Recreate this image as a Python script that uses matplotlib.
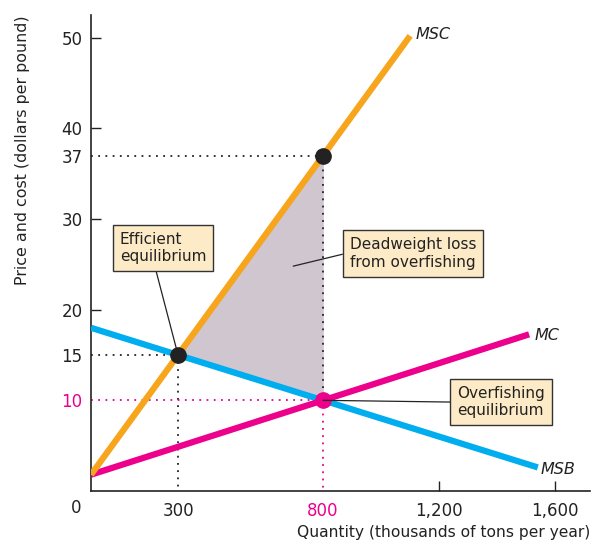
import matplotlib.pyplot as plt

# data
q_line = [0, 1100]          # MSC range
q_mc = [0, 1510]
q_msb = [0, 1540]
msc_int, msc_slope = 1.8, 0.044
mc_int, mc_slope = 1.8, 0.01025
msb_int, msb_slope = 18.0, -0.01

efficient = (300, 15)
overfish = (800, 10)
msc_at_800 = (800, 37)

yticks = [10, 15, 20, 30, 37, 40, 50]
xticks = [300, 800, 1200, 1600]
xtick_labels = ["300", "800", "1,200", "1,600"]

orange = "#f7a51c"
blue = "#00aeef"
pink = "#ec008c"
shade = "#cfc6d0"
boxfill = "#fdeac6"
dark = "#222222"

plt.rcParams['font.family'] = ['DejaVu Sans']

fig = plt.figure(figsize=(5.98, 5.43), dpi=100)
ax = fig.add_axes([91/598, 52/543, 499/598, 476/543])

def line(q, a, b):
    return [a + b*x for x in q]

# deadweight loss area
ax.fill([efficient[0], msc_at_800[0], overfish[0]],
        [efficient[1], msc_at_800[1], overfish[1]], color=shade, zorder=1)

# dotted guides
ax.plot([0, msc_at_800[0], msc_at_800[0]], [msc_at_800[1], msc_at_800[1], overfish[1]],
        ls=(0, (1, 3)), color=dark, lw=1.3, zorder=2)
ax.plot([0, efficient[0], efficient[0]], [efficient[1], efficient[1], 0],
        ls=(0, (1, 3)), color=dark, lw=1.3, zorder=2)
ax.plot([0, overfish[0], overfish[0]], [overfish[1], overfish[1], 0],
        ls=(0, (1, 3)), color=pink, lw=1.3, zorder=2)

# curves
ax.plot(q_msb, line(q_msb, msb_int, msb_slope), color=blue, lw=4.5, solid_capstyle='butt', zorder=3)
ax.plot(q_mc, line(q_mc, mc_int, mc_slope), color=pink, lw=4.5, solid_capstyle='butt', zorder=3)
ax.plot(q_line, line(q_line, msc_int, msc_slope), color=orange, lw=4.5, solid_capstyle='butt', zorder=4)

ax.plot(*efficient, 'o', color=dark, ms=11, zorder=6)
ax.plot(*msc_at_800, 'o', color=dark, ms=11, zorder=6)
ax.plot(*overfish, 'o', color=pink, ms=11, zorder=6)

# curve labels
ax.text(1120, 50.3, "MSC", style='italic', fontsize=11.5, va='center', ha='left', color=dark)
ax.text(1530, 17.2, "MC", style='italic', fontsize=11.5, va='center', ha='left', color=dark)
ax.text(1550, 2.4, "MSB", style='italic', fontsize=11.5, va='center', ha='left', color=dark)

# annotation boxes
bbox = dict(boxstyle='square,pad=0.45', fc=boxfill, ec='#333333', lw=1)
ax.annotate("Efficient\nequilibrium", xy=efficient, xytext=(248, 26.8),
            fontsize=11, ha='center', va='center', multialignment='left', color=dark, bbox=bbox,
            arrowprops=dict(arrowstyle='-', color=dark, lw=0.9, relpos=(0.4, 0),
                            shrinkA=0, shrinkB=0), zorder=7)
ax.annotate("Deadweight loss\nfrom overfishing", xy=(697, 24.8), xytext=(1110, 26.2),
            fontsize=11, ha='center', va='center', multialignment='left', color=dark, bbox=bbox,
            arrowprops=dict(arrowstyle='-', color=dark, lw=0.9, relpos=(0, 0.53),
                            shrinkA=0, shrinkB=0), zorder=7)
ax.annotate("Overfishing\nequilibrium", xy=overfish, xytext=(1414, 9.8),
            fontsize=11, ha='center', va='center', multialignment='left', color=dark, bbox=bbox,
            arrowprops=dict(arrowstyle='-', color=dark, lw=0.9, relpos=(0, 0.5),
                            shrinkA=0, shrinkB=0), zorder=7)

ax.set_xlim(0, 1720)
ax.set_ylim(0, 52.5)
for s in ['top', 'right']:
    ax.spines[s].set_visible(False)
for s in ['left', 'bottom']:
    ax.spines[s].set_linewidth(1.2)
    ax.spines[s].set_color(dark)

ax.set_yticks(yticks)
ax.set_yticklabels([str(v) for v in yticks])
ax.set_xticks(xticks)
ax.set_xticklabels(xtick_labels)
ax.tick_params(direction='in', length=7, width=1, colors=dark, labelsize=12, pad=6)
ax.tick_params(axis='x', pad=8)
for t, v in zip(ax.yaxis.get_major_ticks(), yticks):
    if v in (10, 15, 37):
        t.tick1line.set_visible(False)
for t, v in zip(ax.xaxis.get_major_ticks(), xticks):
    if v in (300, 800):
        t.tick1line.set_visible(False)
ax.get_yticklabels()[0].set_color(pink)
ax.get_xticklabels()[1].set_color(pink)

# origin label
ax.text(-0.02, -0.017, "0", transform=ax.transAxes, fontsize=12, color=dark,
        ha='right', va='top')

ax.set_ylabel("Price and cost (dollars per pound)", fontsize=11.4, color=dark)
ax.yaxis.set_label_coords(-(91 - 30) / 499, (491 - 150) / 476)
ax.set_xlabel("Quantity (thousands of tons per year)", fontsize=11.2, color=dark, ha='right')
ax.xaxis.set_label_coords(1.0, -0.072)

fig.savefig("out.png", dpi=100)
